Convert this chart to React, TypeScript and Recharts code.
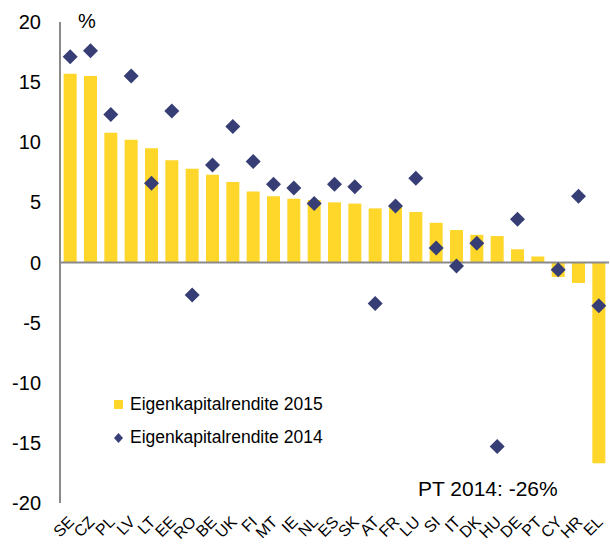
import {
  ComposedChart,
  Bar,
  Scatter,
  XAxis,
  YAxis,
  ReferenceLine,
  Legend,
} from "recharts";

const countries = [
  "SE", "CZ", "PL", "LV", "LT", "EE", "RO", "BE", "UK", "FI", "MT", "IE", "NL", "ES",
  "SK", "AT", "FR", "LU", "SI", "IT", "DK", "HU", "DE", "PT", "CY", "HR", "EL",
];
const roe2015 = [
  15.7, 15.5, 10.8, 10.2, 9.5, 8.5, 7.8, 7.3, 6.7, 5.9, 5.5, 5.3, 5.2, 5.0,
  4.9, 4.5, 4.6, 4.2, 3.3, 2.7, 2.3, 2.2, 1.1, 0.5, -1.2, -1.7, -16.7,
];
// PT 2014 (-26%) is off the scale, shown as a note instead
const roe2014: (number | null)[] = [
  17.1, 17.6, 12.3, 15.5, 6.6, 12.6, -2.7, 8.1, 11.3, 8.4, 6.5, 6.2, 4.9, 6.5,
  6.3, -3.4, 4.7, 7.0, 1.2, -0.3, 1.6, -15.3, 3.6, null, -0.6, 5.5, -3.6,
];
const yTicks = [-20, -15, -10, -5, 0, 5, 10, 15, 20];

const data = countries.map((c, i) => ({ c, y2015: roe2015[i], y2014: roe2014[i] }));

const YELLOW = "#FFD62A";
const NAVY = "#363E75";
const GREY = "#8A8A8A";
const FONT = "'Liberation Sans', Arial, sans-serif";

const Diamond = (props: any) => {
  const { cx, cy, payload } = props;
  if (payload?.y2014 == null || !isFinite(cy)) return <g />;
  const r = 7.5;
  return (
    <polygon
      points={`${cx},${cy - r} ${cx + r},${cy} ${cx},${cy + r} ${cx - r},${cy}`}
      fill={NAVY}
    />
  );
};

const CountryTick = (props: any) => {
  const { x, y, payload } = props;
  const tx = x + 5;
  const ty = y + 18;
  return (
    <text
      x={tx}
      y={ty}
      transform={`rotate(-45 ${tx} ${ty})`}
      textAnchor="end"
      fontSize={16}
      fontFamily={FONT}
      fill="#000"
    >
      {payload.value}
    </text>
  );
};

const LegendBox = () => (
  <div style={{ fontFamily: FONT, fontSize: 17.5, color: "#000", lineHeight: "33px" }}>
    <div style={{ display: "flex", alignItems: "center" }}>
      <svg width={13} height={10} style={{ marginRight: 3 }}>
        <rect x={0} y={0} width={9} height={9} fill={YELLOW} />
      </svg>
      <span>Eigenkapitalrendite 2015</span>
    </div>
    <div style={{ display: "flex", alignItems: "center" }}>
      <svg width={13} height={10} style={{ marginRight: 3 }}>
        <polygon points="4.5,0 9,5 4.5,10 0,5" fill={NAVY} />
      </svg>
      <span>Eigenkapitalrendite 2014</span>
    </div>
  </div>
);

export default function App() {
  return (
    <div style={{ position: "absolute", left: 0, top: 0, width: 610, height: 544, background: "#fff" }}>
      <ComposedChart
        width={610}
        height={544}
        data={data}
        margin={{ top: 22, right: 1, bottom: 0, left: 0 }}
        barCategoryGap="18%"
      >
        <XAxis
          dataKey="c"
          axisLine={false}
          tickLine={false}
          tickSize={0}
          interval={0}
          height={41}
          tick={<CountryTick />}
        />
        <YAxis
          domain={[-20, 20]}
          ticks={yTicks}
          width={60}
          axisLine={{ stroke: GREY, strokeWidth: 2 }}
          tickLine={false}
          tickSize={0}
          tickMargin={19}
          tick={{ fontSize: 20, fontFamily: FONT, fill: "#000" }}
          interval={0}
        />
        <Bar dataKey="y2015" fill={YELLOW} isAnimationActive={false} />
        <ReferenceLine y={0} stroke={GREY} strokeWidth={2} ifOverflow="extendDomain" />
        <Scatter dataKey="y2014" shape={<Diamond />} isAnimationActive={false} />
        <Legend
          layout="horizontal"
          verticalAlign="middle"
          align="center"
          content={<LegendBox />}
          wrapperStyle={{ position: "absolute", left: 114, top: 388, width: "auto" }}
        />
      </ComposedChart>
      <div style={{ position: "absolute", left: 78, top: 10, fontFamily: FONT, fontSize: 20 }}>%</div>
      <div style={{ position: "absolute", left: 418, top: 477, fontFamily: FONT, fontSize: 21 }}>
        PT 2014: -26%
      </div>
    </div>
  );
}
